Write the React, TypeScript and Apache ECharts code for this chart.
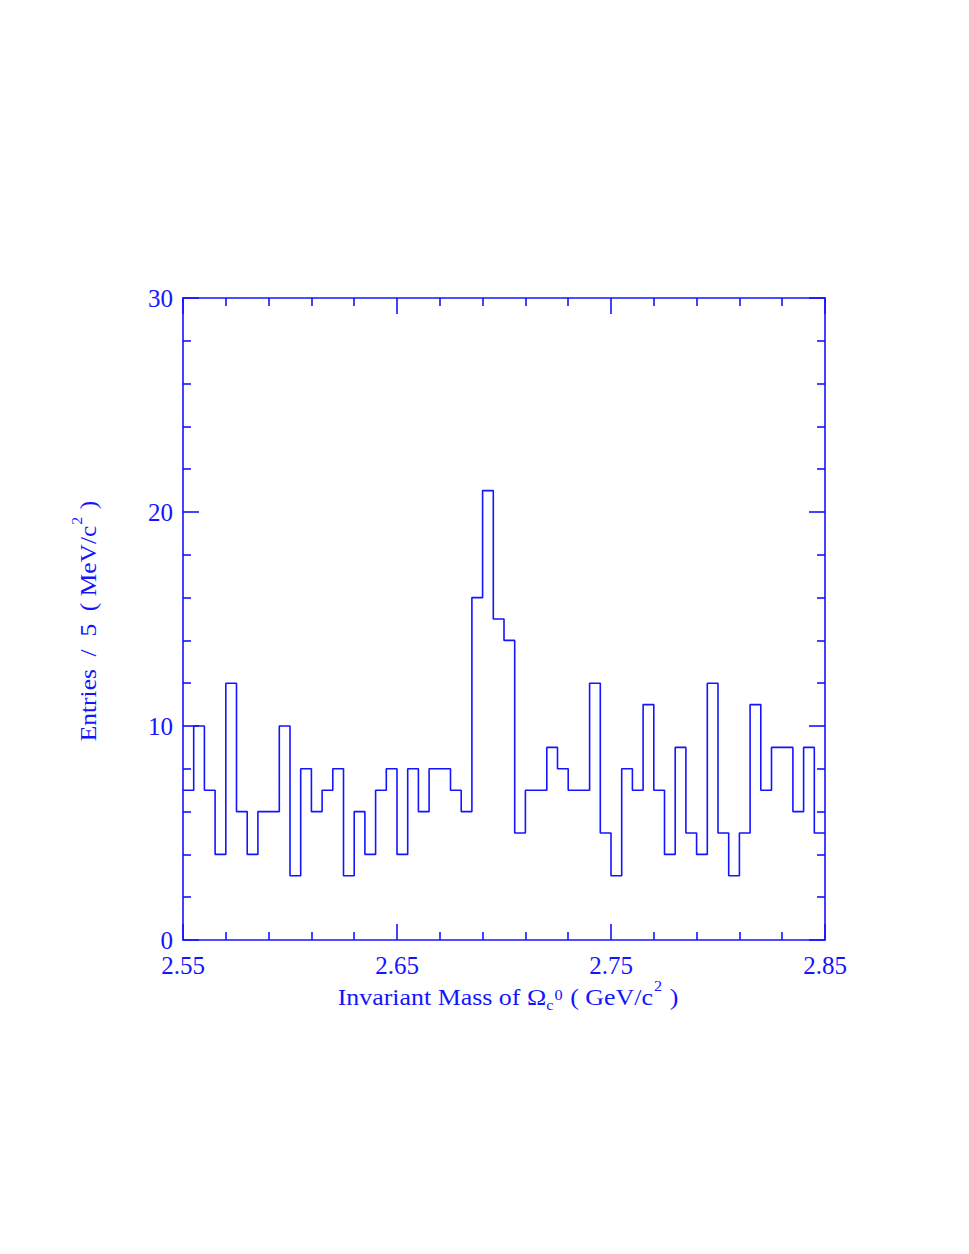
import React, { useEffect, useRef } from 'react';
import * as echarts from 'echarts';

// ---- data ----
const binLow = 2.55;
const binHigh = 2.85;
const binWidth = 0.005;
const counts = [
  7, 10, 7, 4, 12, 6, 4, 6, 6, 10,
  3, 8, 6, 7, 8, 3, 6, 4, 7, 8,
  4, 8, 6, 8, 8, 7, 6, 16, 21, 15,
  14, 5, 7, 7, 9, 8, 7, 7, 12, 5,
  3, 8, 7, 11, 7, 4, 9, 5, 4, 12,
  5, 3, 5, 11, 7, 9, 9, 6, 9, 5,
];
const xTickLabels = ['2.55', '2.65', '2.75', '2.85'];
const yMin = 0;
const yMax = 30;

const BLUE = '#1414ff';
const FONT = '"Liberation Serif", "DejaVu Serif", serif';

type Seg = { text: string; size: number; dy: number; gap?: number };

let measureCtx: CanvasRenderingContext2D | null = null;
function measure(text: string, size: number): number {
  if (!measureCtx) {
    const c = document.createElement('canvas');
    measureCtx = c.getContext('2d');
  }
  if (!measureCtx) return text.length * size * 0.5;
  measureCtx.font = `${size}px "Liberation Serif"`;
  return measureCtx.measureText(text).width;
}

function richLine(segs: Seg[], cx: number, cy: number, rotation: number, stretch: number) {
  let total = 0;
  segs.forEach((s) => {
    total += (s.gap || 0) + measure(s.text, s.size);
  });
  let x = -total / 2;
  const children = segs.map((s) => {
    x += s.gap || 0;
    const el = {
      type: 'text',
      x,
      y: s.dy,
      style: {
        text: s.text,
        fontFamily: FONT,
        fontSize: s.size,
        fill: BLUE,
        align: 'left',
        verticalAlign: 'middle',
      },
    };
    x += measure(s.text, s.size);
    return el;
  });
  return { type: 'group', x: cx, y: cy, rotation, scaleX: stretch, scaleY: 1, children };
}

export default function App() {
  const ref = useRef<HTMLDivElement>(null);

  useEffect(() => {
    if (!ref.current) return;
    const chart = echarts.init(ref.current, null, { renderer: 'svg' });

    const lineData: [number, number][] = counts.map((c, i) => [binLow + i * binWidth, c]);
    lineData.push([binHigh, counts[counts.length - 1]]);

    const xLabelFmt = (v: number) => {
      const s = v.toFixed(2);
      return xTickLabels.indexOf(s) >= 0 ? s : '';
    };

    const commonX = {
      type: 'value',
      min: binLow,
      max: binHigh,
      interval: 0.1,
      splitLine: { show: false },
      axisLine: { show: true, onZero: false, lineStyle: { color: BLUE, width: 1.6 } },
      axisTick: { show: true, inside: true, length: 16, lineStyle: { color: BLUE, width: 1.6 } },
      minorTick: { show: true, splitNumber: 5, length: 8, lineStyle: { color: BLUE, width: 1.6 } },
      minorSplitLine: { show: false },
    };
    const commonY = {
      type: 'value',
      min: yMin,
      max: yMax,
      interval: 10,
      splitLine: { show: false },
      axisLine: { show: true, onZero: false, lineStyle: { color: BLUE, width: 1.6 } },
      axisTick: { show: true, inside: true, length: 16, lineStyle: { color: BLUE, width: 1.6 } },
      minorTick: { show: true, splitNumber: 5, length: 8, lineStyle: { color: BLUE, width: 1.6 } },
      minorSplitLine: { show: false },
    };

    const xTitle = richLine(
      [
        { text: 'Invariant Mass of Ω', size: 24, dy: 0 },
        { text: 'c', size: 15, dy: 8 },
        { text: '0', size: 15, dy: -2, gap: 1 },
        { text: '( GeV/c', size: 24, dy: 0, gap: 7 },
        { text: '2', size: 15, dy: -11, gap: 1 },
        { text: ')', size: 24, dy: 0, gap: 7 },
      ],
      508,
      997,
      0,
      1.08
    );
    const yTitle = richLine(
      [
        { text: 'Entries', size: 24, dy: 0 },
        { text: '/', size: 24, dy: 0, gap: 12 },
        { text: '5', size: 24, dy: 0, gap: 12 },
        { text: '( MeV/c', size: 24, dy: 0, gap: 12 },
        { text: '2', size: 15, dy: -11, gap: 1 },
        { text: ')', size: 24, dy: 0, gap: 7 },
      ],
      88,
      621,
      Math.PI / 2,
      1.06
    );

    chart.setOption({
      animation: false,
      backgroundColor: '#ffffff',
      grid: { left: 183, top: 298, width: 642, height: 642, containLabel: false },
      xAxis: [
        {
          ...commonX,
          position: 'bottom',
          axisLabel: {
            show: true,
            color: BLUE,
            fontFamily: FONT,
            fontSize: 25,
            margin: 13,
            formatter: xLabelFmt,
            showMinLabel: true,
            showMaxLabel: true,
          },
        },
        { ...commonX, position: 'top', axisLabel: { show: false } },
      ],
      yAxis: [
        {
          ...commonY,
          position: 'left',
          axisLabel: {
            show: true,
            color: BLUE,
            fontFamily: FONT,
            fontSize: 25,
            margin: 10,
          },
        },
        { ...commonY, position: 'right', axisLabel: { show: false } },
      ],
      graphic: [xTitle, yTitle],
      series: [
        {
          type: 'line',
          xAxisIndex: 0,
          yAxisIndex: 0,
          step: 'end',
          symbol: 'none',
          data: lineData,
          lineStyle: { color: BLUE, width: 1.6 },
          silent: true,
        },
      ],
    });

    return () => chart.dispose();
  }, []);

  return (
    <div
      ref={ref}
      style={{ position: 'absolute', left: 0, top: 0, width: 969, height: 1254, background: '#fff' }}
    />
  );
}
